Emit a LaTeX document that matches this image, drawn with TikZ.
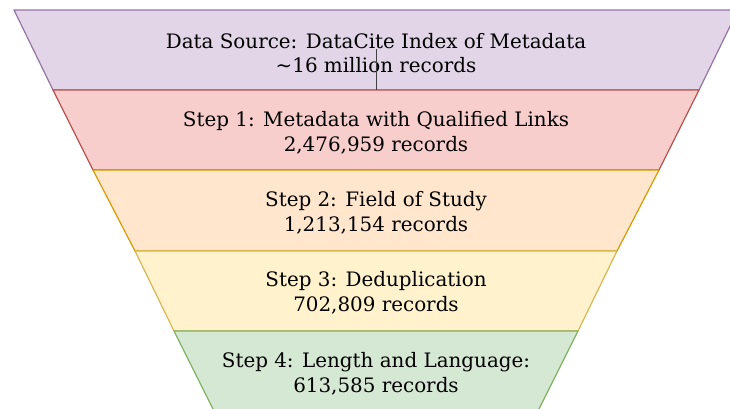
\documentclass[tikz,border=0pt]{standalone}
\usepackage{fontspec}
\setmainfont{DejaVu Serif}

\definecolor{srcfill}{HTML}{E1D5E7}
\definecolor{srcline}{HTML}{9673A6}
\definecolor{onefill}{HTML}{F8CECC}
\definecolor{oneline}{HTML}{B85450}
\definecolor{twofill}{HTML}{FFE6CC}
\definecolor{twoline}{HTML}{D79B00}
\definecolor{threefill}{HTML}{FFF2CC}
\definecolor{threeline}{HTML}{D6B656}
\definecolor{fourfill}{HTML}{D5E8D4}
\definecolor{fourline}{HTML}{82B366}

\tikzset{
    layer/.style={line width=1.2pt, line join=round},
    label/.style={align=center, font=\fontsize{19.9}{24.5}\selectfont, inner sep=0pt}
}

\begin{document}
\begin{tikzpicture}[x=1pt, y=-1pt]
    \clip (0,0) rectangle (730,409);

    % funnel layers
    \filldraw[layer, fill=srcfill, draw=srcline] (14,10) -- (738,10) -- (699,90) -- (53,90) -- cycle;
    \filldraw[layer, fill=onefill, draw=oneline] (53,90) -- (699,90) -- (659,170) -- (93,170) -- cycle;
    \filldraw[layer, fill=twofill, draw=twoline] (93,170) -- (659,170) -- (617,251) -- (135,251) -- cycle;
    \filldraw[layer, fill=threefill, draw=threeline] (135,251) -- (617,251) -- (578,331) -- (174,331) -- cycle;
    \filldraw[layer, fill=fourfill, draw=fourline] (174,331) -- (578,331) -- (538,411) -- (214,411) -- cycle;

    % texts
    \node[label] (src) at (376,53) {Data Source: DataCite Index of Metadata\\\textasciitilde16 million records};
    \node[label] (s1) at (376,133) {Step 1: Metadata with Qualified Links\\2,476,959 records};
    \node[label] (s2) at (376,213) {Step 2: Field of Study\\1,213,154 records};
    \node[label] (s3) at (376,293) {Step 3: Deduplication\\702,809 records};
    \node[label] (s4) at (376,374) {Step 4: Length and Language:\\613,585 records};

    \coordinate (tk1) at (376,49);
    \coordinate (tk2) at (376,90);
    \draw[line width=0.9pt, draw=black!75] (tk1) -- (tk2);
\end{tikzpicture}
\end{document}
